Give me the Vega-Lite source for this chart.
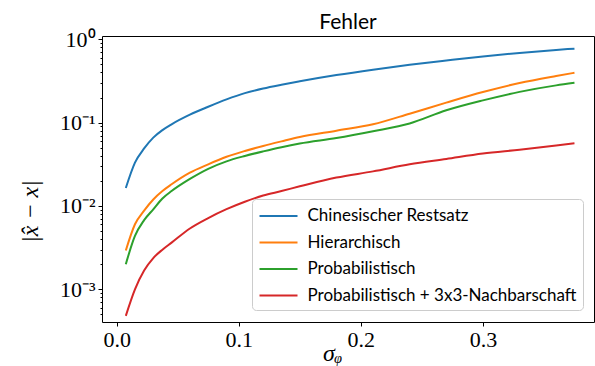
{
  "$schema": "https://vega.github.io/schema/vega-lite/v6.json",
  "autosize": "none",
  "width": 492,
  "height": 286,
  "padding": {"left": 102, "top": 36, "right": 1, "bottom": 44},
  "background": "white",
  "title": {"text": "Fehler", "font": "Lato", "fontSize": 21, "fontWeight": "normal", "color": "#000", "anchor": "middle", "frame": "group", "baseline": "alphabetic", "offset": 8, "dy": 30},
  "config": {
    "view": {"stroke": "#000", "strokeWidth": 1},
    "axis": {"domain": false, "grid": false, "tickColor": "#000", "labelColor": "#000", "titleColor": "#000", "labelFont": "Liberation Serif", "labelFontSize": 22, "titleFont": "Liberation Serif", "titleFontWeight": "normal", "titleFontStyle": "italic", "titleFontSize": 24}
  },
  "data": {"values": [
    {"m": "Chinesischer Restsatz", "x": 0.0075, "y": 0.0164},
    {"m": "Chinesischer Restsatz", "x": 0.015, "y": 0.0331},
    {"m": "Chinesischer Restsatz", "x": 0.0225, "y": 0.049},
    {"m": "Chinesischer Restsatz", "x": 0.03, "y": 0.0661},
    {"m": "Chinesischer Restsatz", "x": 0.0375, "y": 0.0813},
    {"m": "Chinesischer Restsatz", "x": 0.045, "y": 0.0955},
    {"m": "Chinesischer Restsatz", "x": 0.06, "y": 0.1245},
    {"m": "Chinesischer Restsatz", "x": 0.075, "y": 0.155},
    {"m": "Chinesischer Restsatz", "x": 0.09, "y": 0.19},
    {"m": "Chinesischer Restsatz", "x": 0.105, "y": 0.226},
    {"m": "Chinesischer Restsatz", "x": 0.12, "y": 0.257},
    {"m": "Chinesischer Restsatz", "x": 0.135, "y": 0.285},
    {"m": "Chinesischer Restsatz", "x": 0.15, "y": 0.313},
    {"m": "Chinesischer Restsatz", "x": 0.18, "y": 0.372},
    {"m": "Chinesischer Restsatz", "x": 0.21, "y": 0.432},
    {"m": "Chinesischer Restsatz", "x": 0.24, "y": 0.494},
    {"m": "Chinesischer Restsatz", "x": 0.27, "y": 0.557},
    {"m": "Chinesischer Restsatz", "x": 0.3, "y": 0.624},
    {"m": "Chinesischer Restsatz", "x": 0.33, "y": 0.687},
    {"m": "Chinesischer Restsatz", "x": 0.36, "y": 0.745},
    {"m": "Chinesischer Restsatz", "x": 0.375, "y": 0.773},
    {"m": "Hierarchisch", "x": 0.0075, "y": 0.00292},
    {"m": "Hierarchisch", "x": 0.015, "y": 0.00603},
    {"m": "Hierarchisch", "x": 0.0225, "y": 0.0088},
    {"m": "Hierarchisch", "x": 0.03, "y": 0.01197},
    {"m": "Hierarchisch", "x": 0.0375, "y": 0.0151},
    {"m": "Hierarchisch", "x": 0.045, "y": 0.0182},
    {"m": "Hierarchisch", "x": 0.06, "y": 0.0251},
    {"m": "Hierarchisch", "x": 0.075, "y": 0.0316},
    {"m": "Hierarchisch", "x": 0.09, "y": 0.0389},
    {"m": "Hierarchisch", "x": 0.105, "y": 0.0457},
    {"m": "Hierarchisch", "x": 0.12, "y": 0.0525},
    {"m": "Hierarchisch", "x": 0.135, "y": 0.0596},
    {"m": "Hierarchisch", "x": 0.15, "y": 0.0673},
    {"m": "Hierarchisch", "x": 0.18, "y": 0.0800},
    {"m": "Hierarchisch", "x": 0.21, "y": 0.0955},
    {"m": "Hierarchisch", "x": 0.24, "y": 0.128},
    {"m": "Hierarchisch", "x": 0.27, "y": 0.174},
    {"m": "Hierarchisch", "x": 0.3, "y": 0.233},
    {"m": "Hierarchisch", "x": 0.33, "y": 0.299},
    {"m": "Hierarchisch", "x": 0.36, "y": 0.363},
    {"m": "Hierarchisch", "x": 0.375, "y": 0.397},
    {"m": "Probabilistisch", "x": 0.0075, "y": 0.002},
    {"m": "Probabilistisch", "x": 0.015, "y": 0.00437},
    {"m": "Probabilistisch", "x": 0.0225, "y": 0.00676},
    {"m": "Probabilistisch", "x": 0.03, "y": 0.00912},
    {"m": "Probabilistisch", "x": 0.0375, "y": 0.0123},
    {"m": "Probabilistisch", "x": 0.045, "y": 0.0151},
    {"m": "Probabilistisch", "x": 0.06, "y": 0.0211},
    {"m": "Probabilistisch", "x": 0.075, "y": 0.0279},
    {"m": "Probabilistisch", "x": 0.09, "y": 0.0343},
    {"m": "Probabilistisch", "x": 0.105, "y": 0.0398},
    {"m": "Probabilistisch", "x": 0.12, "y": 0.0452},
    {"m": "Probabilistisch", "x": 0.135, "y": 0.0508},
    {"m": "Probabilistisch", "x": 0.15, "y": 0.0562},
    {"m": "Probabilistisch", "x": 0.18, "y": 0.0653},
    {"m": "Probabilistisch", "x": 0.21, "y": 0.0788},
    {"m": "Probabilistisch", "x": 0.24, "y": 0.0977},
    {"m": "Probabilistisch", "x": 0.27, "y": 0.1406},
    {"m": "Probabilistisch", "x": 0.3, "y": 0.185},
    {"m": "Probabilistisch", "x": 0.33, "y": 0.234},
    {"m": "Probabilistisch", "x": 0.36, "y": 0.28},
    {"m": "Probabilistisch", "x": 0.375, "y": 0.301},
    {"m": "Probabilistisch + 3x3-Nachbarschaft", "x": 0.0075, "y": 0.00048},
    {"m": "Probabilistisch + 3x3-Nachbarschaft", "x": 0.015, "y": 0.001},
    {"m": "Probabilistisch + 3x3-Nachbarschaft", "x": 0.0225, "y": 0.00168},
    {"m": "Probabilistisch + 3x3-Nachbarschaft", "x": 0.03, "y": 0.00237},
    {"m": "Probabilistisch + 3x3-Nachbarschaft", "x": 0.0375, "y": 0.00299},
    {"m": "Probabilistisch + 3x3-Nachbarschaft", "x": 0.045, "y": 0.00363},
    {"m": "Probabilistisch + 3x3-Nachbarschaft", "x": 0.06, "y": 0.00537},
    {"m": "Probabilistisch + 3x3-Nachbarschaft", "x": 0.075, "y": 0.00716},
    {"m": "Probabilistisch + 3x3-Nachbarschaft", "x": 0.09, "y": 0.00915},
    {"m": "Probabilistisch + 3x3-Nachbarschaft", "x": 0.105, "y": 0.01125},
    {"m": "Probabilistisch + 3x3-Nachbarschaft", "x": 0.12, "y": 0.01334},
    {"m": "Probabilistisch + 3x3-Nachbarschaft", "x": 0.135, "y": 0.0151},
    {"m": "Probabilistisch + 3x3-Nachbarschaft", "x": 0.15, "y": 0.0172},
    {"m": "Probabilistisch + 3x3-Nachbarschaft", "x": 0.18, "y": 0.0219},
    {"m": "Probabilistisch + 3x3-Nachbarschaft", "x": 0.21, "y": 0.026},
    {"m": "Probabilistisch + 3x3-Nachbarschaft", "x": 0.24, "y": 0.0316},
    {"m": "Probabilistisch + 3x3-Nachbarschaft", "x": 0.27, "y": 0.0367},
    {"m": "Probabilistisch + 3x3-Nachbarschaft", "x": 0.3, "y": 0.0427},
    {"m": "Probabilistisch + 3x3-Nachbarschaft", "x": 0.33, "y": 0.0473},
    {"m": "Probabilistisch + 3x3-Nachbarschaft", "x": 0.36, "y": 0.0531},
    {"m": "Probabilistisch + 3x3-Nachbarschaft", "x": 0.375, "y": 0.0565}
  ]},
  "mark": {"type": "line", "strokeWidth": 2, "clip": true, "interpolate": "monotone"},
  "encoding": {
    "x": {"field": "x", "type": "quantitative",
      "scale": {"domain": [-0.012, 0.391], "nice": false, "zero": false},
      "axis": {"values": [0, 0.1, 0.2, 0.3], "format": ".1f", "tickSize": 4, "labelPadding": 3, "title": "σᵩ", "titleX": 230, "titleY": 38, "titleBaseline": "alphabetic", "titleAnchor": null}},
    "y": {"field": "y", "type": "quantitative",
      "scale": {"type": "log", "domain": [0.000405, 1.096], "nice": false},
      "axis": {
        "values": [0.0005, 0.0006, 0.0007, 0.0008, 0.0009, 0.001, 0.002, 0.003, 0.004, 0.005, 0.006, 0.007, 0.008, 0.009, 0.01, 0.02, 0.03, 0.04, 0.05, 0.06, 0.07, 0.08, 0.09, 0.1, 0.2, 0.3, 0.4, 0.5, 0.6, 0.7, 0.8, 0.9, 1],
        "labelExpr": "abs(datum.value - 1) < 1e-9 ? '10⁰' : abs(datum.value - 0.1) < 1e-9 ? '10⁻¹' : abs(datum.value - 0.01) < 1e-10 ? '10⁻²' : abs(datum.value - 0.001) < 1e-11 ? '10⁻³' : ''",
        "tickSize": {"condition": {"test": "abs(log(datum.value)/LN10 - round(log(datum.value)/LN10)) < 1e-6", "value": 4}, "value": 2},
        "labelPadding": 3, "labelBaseline": "middle",
        "title": "|x̂ − x|", "titleAngle": 270, "titleX": -72, "titleY": 175, "titleAlign": "center", "titleBaseline": "middle", "titleAnchor": null}},
    "color": {"field": "m", "type": "nominal",
      "scale": {"domain": ["Chinesischer Restsatz", "Hierarchisch", "Probabilistisch", "Probabilistisch + 3x3-Nachbarschaft"], "range": ["#1f77b4", "#ff7f0e", "#2ca02c", "#d62728"]},
      "legend": {"title": null, "orient": "none", "legendX": 150, "legendY": 163, "symbolType": "M-1,0H3", "symbolSize": 361, "symbolStrokeWidth": 2, "labelFont": "Lato", "labelFontSize": 17, "labelColor": "#000", "labelOffset": 28, "rowPadding": 7.5, "padding": 6.5, "fillColor": "rgba(255,255,255,0.8)", "strokeColor": "#cccccc", "cornerRadius": 4, "labelLimit": 400}}
  }
}
